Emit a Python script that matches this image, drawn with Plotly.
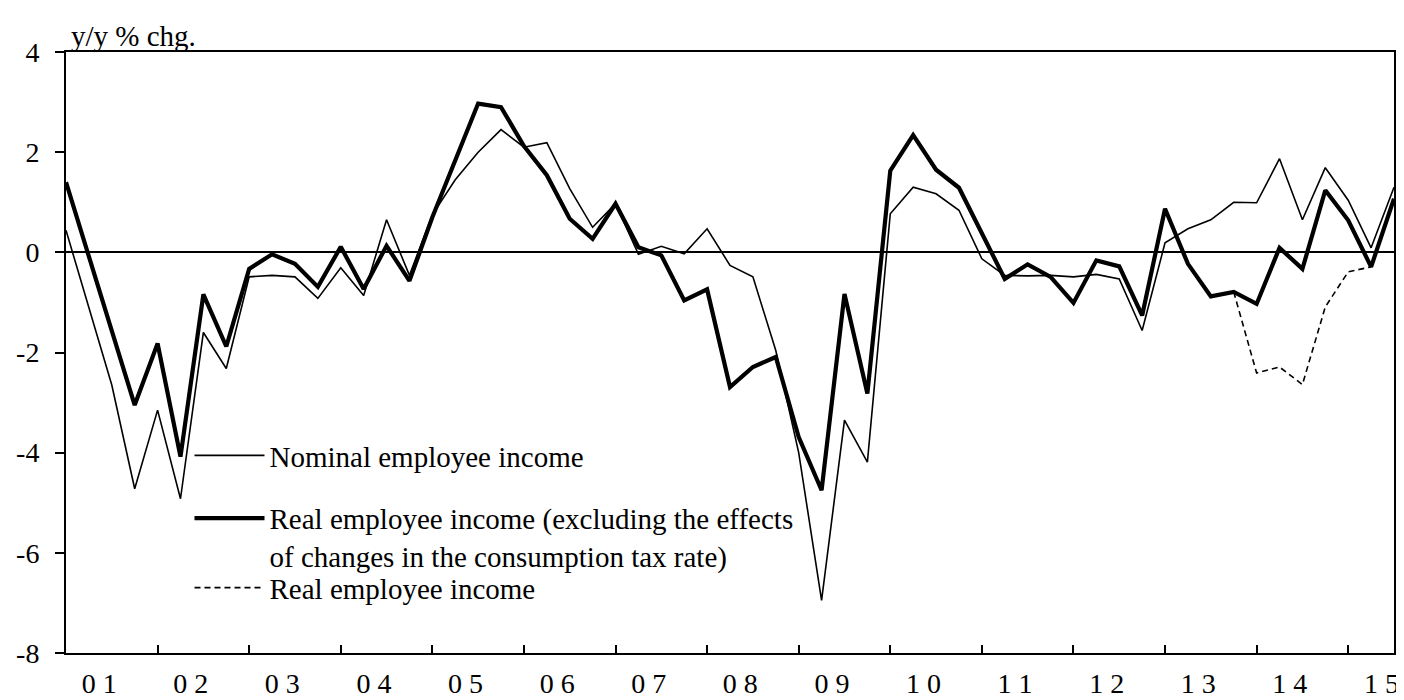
import plotly.graph_objects as go

# Quarterly, 2001Q1 .. 2015Q3
quarters = [f"{y}Q{q}" for y in range(2001, 2016) for q in range(1, 5)][:59]

nominal = [0.44, -1.1, -2.65, -4.72, -3.15, -4.92, -1.6, -2.32,
           -0.49, -0.46, -0.49, -0.92, -0.31, -0.86, 0.65, -0.46,
           0.75, 1.45, 2.0, 2.45, 2.1, 2.19, 1.27, 0.5,
           0.97, -0.04, 0.12, -0.03, 0.47, -0.26, -0.49, -1.96,
           -4.0, -6.95, -3.35, -4.19, 0.77, 1.3, 1.17, 0.84,
           -0.13, -0.46, -0.47, -0.46, -0.49, -0.44, -0.53, -1.56,
           0.19, 0.47, 0.65, 1.0, 0.99, 1.87, 0.65, 1.69,
           1.04, 0.09, 1.3]

real_excl_tax = [1.4, -0.1, -1.6, -3.05, -1.82, -4.08, -0.84, -1.88,
                 -0.33, -0.04, -0.23, -0.69, 0.11, -0.73, 0.13, -0.57,
                 0.7, 1.85, 2.97, 2.9, 2.12, 1.54, 0.67, 0.27,
                 0.97, 0.1, -0.06, -0.96, -0.74, -2.69, -2.29, -2.09,
                 -3.69, -4.75, -0.83, -2.82, 1.63, 2.34, 1.65, 1.29,
                 0.37, -0.53, -0.24, -0.49, -1.01, -0.16, -0.28, -1.26,
                 0.87, -0.23, -0.88, -0.79, -1.03, 0.09, -0.33, 1.24,
                 0.64, -0.29, 1.07]

real = [None] * 51 + [-0.79, -2.41, -2.29, -2.64, -1.09, -0.39, -0.29, None]

year_labels = ["0 1", "0 2", "0 3", "0 4", "0 5", "0 6", "0 7", "0 8",
               "0 9", "1 0", "1 1", "1 2", "1 3", "1 4", "1 5"]
y_ticks = [4, 2, 0, -2, -4, -6, -8]

x = list(range(len(quarters)))
FONT = "Liberation Serif, Times New Roman, serif"
FS = 28
FS_TEXT = 29

fig = go.Figure()
fig.add_trace(go.Scatter(x=x, y=nominal, mode="lines", name="Nominal employee income",
                         line=dict(color="black", width=1.6), legendgroup="a", legendrank=1,
                         customdata=quarters))
fig.add_trace(go.Scatter(x=x, y=real, mode="lines", name="Real employee income",
                         line=dict(color="black", width=1.6, dash="6px,4px"),
                         legend="legend2", connectgaps=False))
fig.add_trace(go.Scatter(x=x, y=real_excl_tax, mode="lines",
                         name="Real employee income (excluding the effects<br>of changes in the consumption tax rate)",
                         line=dict(color="black", width=4.2), legendgroup="b", legendrank=2))

label_pos = [4 * k + 1.45 for k in range(len(year_labels))]
minor_ticks = [4 * k for k in range(1, len(year_labels))]

legend_common = dict(xanchor="left", yanchor="top", bgcolor="rgba(0,0,0,0)",
                     itemwidth=70, valign="top",
                     font=dict(family=FONT, size=FS_TEXT, color="black"))

fig.update_layout(
    width=1404, height=700,
    margin=dict(l=58, r=18, t=44, b=55, autoexpand=False),
    paper_bgcolor="white", plot_bgcolor="white",
    font=dict(family=FONT, size=FS, color="black"),
    showlegend=True,
    legend=dict(x=0.093, y=0.371, tracegroupgap=22, traceorder="grouped", **legend_common),
    legend2=dict(x=0.093, y=0.151, **legend_common),
    xaxis=dict(range=[0, 58], showgrid=False, zeroline=False, automargin=False,
               showline=True, linecolor="black", linewidth=2, mirror=True,
               tickmode="array", tickvals=label_pos, ticktext=year_labels,
               ticks="", ticklabelstandoff=4,
               minor=dict(tickmode="array", tickvals=minor_ticks, ticks="inside",
                          ticklen=8, tickwidth=2, tickcolor="black", showgrid=False)),
    yaxis=dict(range=[-8, 4], showgrid=False, automargin=False,
               zeroline=True, zerolinecolor="black", zerolinewidth=1.5,
               showline=True, linecolor="black", linewidth=2, mirror=True,
               tickmode="array", tickvals=y_ticks, ticktext=[str(v) for v in y_ticks],
               ticks="outside", ticklen=9, tickwidth=2, tickcolor="black",
               ticklabelstandoff=10),
    annotations=[dict(text="y/y % chg.", xref="paper", yref="paper", x=0.002, y=1,
                      xanchor="left", yanchor="bottom", showarrow=False, yshift=-2,
                      font=dict(family=FONT, size=FS_TEXT, color="black"))],
)

fig.write_html("out.html")
